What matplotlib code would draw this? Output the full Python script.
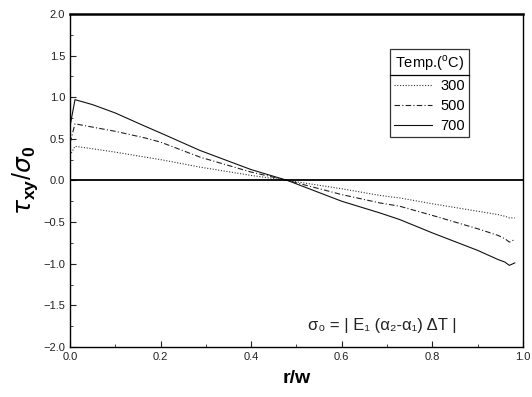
import numpy as np
import matplotlib.pyplot as plt
from matplotlib.ticker import MultipleLocator
from matplotlib.lines import Line2D

plt.rcParams['font.family'] = ['Liberation Sans', 'DejaVu Sans']
plt.rcParams['mathtext.fontset'] = 'custom'
plt.rcParams['mathtext.rm'] = 'Liberation Sans'
plt.rcParams['mathtext.bf'] = 'Liberation Sans:bold'

# r/w positions
r = [0.0, 0.011, 0.05, 0.1, 0.166, 0.2, 0.287, 0.4, 0.48, 0.6, 0.684, 0.728,
     0.8, 0.9, 0.945, 0.96, 0.97, 0.982]
t300 = [0.30, 0.41, 0.38, 0.34, 0.28, 0.25, 0.16, 0.06, 0.0, -0.10, -0.18, -0.21,
        -0.28, -0.37, -0.41, -0.43, -0.45, -0.45]
t500 = [0.45, 0.68, 0.64, 0.59, 0.51, 0.46, 0.28, 0.10, 0.0, -0.17, -0.27, -0.31,
        -0.42, -0.58, -0.66, -0.70, -0.74, -0.71]
t700 = [0.65, 0.97, 0.91, 0.81, 0.65, 0.57, 0.36, 0.13, 0.0, -0.25, -0.39, -0.47,
        -0.63, -0.84, -0.95, -0.98, -1.02, -0.99]
labels = ['300', '500', '700']

fig = plt.figure(figsize=(5.32, 3.97), dpi=100)
ax = fig.add_axes([0.1316, 0.126, 0.8514, 0.839])

ax.plot(r, t300, color='#333333', lw=0.8, ls=(0, (1, 1.5)), label=labels[0])
ax.plot(r, t500, color='#222222', lw=0.8, ls=(0, (5, 2, 1, 2)), label=labels[1])
ax.plot(r, t700, color='#111111', lw=0.8, ls='-', label=labels[2])
ax.axhline(0, color='black', lw=1.3)

ax.set_xlim(0, 1.0)
ax.set_ylim(-2.0, 2.0)
ax.xaxis.set_major_locator(MultipleLocator(0.2))
ax.xaxis.set_minor_locator(MultipleLocator(0.1))
ax.yaxis.set_major_locator(MultipleLocator(0.5))
ax.yaxis.set_minor_locator(MultipleLocator(0.25))
ax.tick_params(which='both', direction='in', labelsize=8, colors='#222222')
ax.tick_params(which='major', length=4)
ax.tick_params(which='minor', length=2)
for s in ax.spines.values():
    s.set_linewidth(1.0)
ax.spines['top'].set_linewidth(1.8)

ax.set_xlabel('r/w', fontsize=14, fontweight='bold', labelpad=6)
ax.set_ylabel(r'$\tau_{\mathbf{xy}}/\sigma_{\mathbf{0}}$', fontsize=18, labelpad=2)

leg = ax.legend(title='Temp.($^{\\rm o}$C)', loc='upper left',
                bbox_to_anchor=(0.706, 0.895), fontsize=10.5, title_fontsize=10.5,
                handlelength=2.6, frameon=True, fancybox=False,
                edgecolor='black', borderpad=0.28, labelspacing=0.42,
                handletextpad=0.6, borderaxespad=0)
leg.get_frame().set_linewidth(0.9)

ax.text(0.69, 0.065, 'σ₀ = | E₁ (α₂-α₁) ΔT |', transform=ax.transAxes,
        fontsize=12, ha='center', va='center', color='#222222')

fig.canvas.draw()
bb = leg.get_window_extent()
title_bb = leg.get_title().get_window_extent()
yline = title_bb.y0 - 2
fig.add_artist(Line2D([bb.x0, bb.x1], [yline, yline], transform=None,
                      color='black', lw=0.9))

fig.savefig('out.png', dpi=100)
